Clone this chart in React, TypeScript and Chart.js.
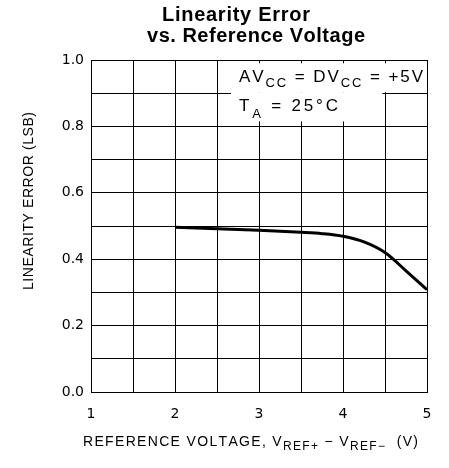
import React, { useEffect, useRef } from 'react';
import { Chart, registerables } from 'chart.js';

Chart.register(...registerables);

// ---- data ----
const voltage = [2, 2.5, 3, 3.5, 3.75, 4, 4.25, 4.5, 4.75, 5];
const linearityError = [0.496, 0.492, 0.487, 0.481, 0.477, 0.469, 0.452, 0.42, 0.365, 0.308];
const xTickLabels = ['1', '2', '3', '4', '5'];
const yTickLabels = ['0.0', '0.2', '0.4', '0.6', '0.8', '1.0'];
const titleLines = ['Linearity Error', 'vs. Reference Voltage'];
const yTitle = 'LINEARITY ERROR (LSB)';
type Run = [string, boolean];
const xTitleRuns: Run[] = [
  ['REFERENCE VOLTAGE, V', false],
  ['REF+', true],
  [' \u2212 V', false],
  ['REF\u2212', true],
  ['  (V)', false],
];
const noteLine1: Run[] = [
  ['AV', false],
  ['CC', true],
  [' = DV', false],
  ['CC', true],
  [' = +5V', false],
];
const noteLine2: Run[] = [
  ['T', false],
  ['A', true],
  [' = 25\u00B0C', false],
];

const FAMILY = '"Liberation Sans", Arial, sans-serif';
const TICK_FAMILY = '"DejaVu Sans", sans-serif';

function drawRuns(
  ctx: CanvasRenderingContext2D,
  runs: Run[],
  x: number,
  y: number,
  size: number,
  subSize: number,
  subDy: number,
  targetWidth: number,
  weight = ''
) {
  const chars: { ch: string; sub: boolean; w: number }[] = [];
  for (const [text, sub] of runs) {
    ctx.font = `${weight} ${sub ? subSize : size}px ${FAMILY}`;
    for (const ch of text) chars.push({ ch, sub, w: ctx.measureText(ch).width });
  }
  const natural = chars.reduce((a, c) => a + c.w, 0);
  const spacing = chars.length > 1 ? (targetWidth - natural) / (chars.length - 1) : 0;
  let cx = x;
  ctx.textAlign = 'left';
  ctx.textBaseline = 'alphabetic';
  for (const c of chars) {
    ctx.font = `${weight} ${c.sub ? subSize : size}px ${FAMILY}`;
    ctx.fillText(c.ch, cx, c.sub ? y + subDy : y);
    cx += c.w + spacing;
  }
}

const decorPlugin = {
  id: 'decor',
  beforeDatasetsDraw(chart: any) {
    const { ctx, scales } = chart;
    const xs = scales.x;
    const ys = scales.y;
    ctx.save();
    ctx.fillStyle = '#fff';
    const box = (x0: number, x1: number, y0: number, y1: number) => {
      const px0 = xs.getPixelForValue(x0);
      const px1 = xs.getPixelForValue(x1);
      const py0 = ys.getPixelForValue(y0);
      const py1 = ys.getPixelForValue(y1);
      ctx.fillRect(px0, py0, px1 - px0, py1 - py0);
    };
    box(2.667, 4.965, 0.99, 0.903);
    box(2.667, 4.47, 0.903, 0.815);
    ctx.restore();
  },
  afterDraw(chart: any) {
    const { ctx, scales } = chart;
    const xs = scales.x;
    const ys = scales.y;
    ctx.save();
    ctx.fillStyle = '#000';
    // title
    drawRuns(ctx, [[titleLines[0], false]], 162, 21, 20, 20, 0, 148, 'bold');
    drawRuns(ctx, [[titleLines[1], false]], 147, 42, 20, 20, 0, 218, 'bold');
    // y title
    ctx.save();
    ctx.translate(33, 201);
    ctx.rotate(-Math.PI / 2);
    drawRuns(ctx, [[yTitle, false]], -89, 0, 14, 10, 0, 178);
    ctx.restore();
    // x title
    drawRuns(ctx, xTitleRuns, 83, 446, 14, 12, 4, 335);
    // note
    const nx = xs.getPixelForValue(2.762);
    drawRuns(ctx, noteLine1, nx, ys.getPixelForValue(0.934), 17, 13, 5, 184);
    drawRuns(ctx, noteLine2, nx, ys.getPixelForValue(0.847), 17, 13, 7, 99);
    ctx.restore();
  },
};

export default function App() {
  const ref = useRef<HTMLCanvasElement>(null);
  useEffect(() => {
    const canvas = ref.current;
    if (!canvas) return;
    const chart = new Chart(canvas, {
      type: 'line',
      data: {
        datasets: [
          {
            data: voltage.map((v, i) => ({ x: v, y: linearityError[i] })),
            borderColor: '#000',
            borderWidth: 3,
            pointRadius: 0,
            cubicInterpolationMode: 'monotone',
            fill: false,
          },
        ],
      },
      options: {
        responsive: false,
        animation: false,
        events: [],
        layout: { padding: { top: 60, right: 22, left: 0, bottom: 0 } },
        plugins: { legend: { display: false }, title: { display: false }, tooltip: { enabled: false } },
        scales: {
          x: {
            type: 'linear',
            min: 1,
            max: 5,
            afterFit: (s: any) => {
              s.height = 76;
            },
            ticks: {
              stepSize: 0.5,
              autoSkip: false,
              maxRotation: 0,
              padding: 14,
              color: '#000',
              font: { family: TICK_FAMILY, size: 14 },
              callback: (v: any) => {
                const n = Number(v);
                return Number.isInteger(n) ? xTickLabels[n - 1] : '';
              },
            },
            grid: { color: '#000', lineWidth: 1, drawTicks: false },
            border: { color: '#000', width: 1 },
          },
          y: {
            type: 'linear',
            min: 0,
            max: 1,
            afterFit: (s: any) => {
              s.width = 91;
            },
            ticks: {
              stepSize: 0.1,
              autoSkip: false,
              padding: 7,
              color: '#000',
              font: { family: TICK_FAMILY, size: 14 },
              callback: (v: any) => {
                const k = Math.round(Number(v) * 10);
                return k % 2 === 0 ? yTickLabels[k / 2] : '';
              },
            },
            grid: { color: '#000', lineWidth: 1, drawTicks: false },
            border: { color: '#000', width: 1 },
          },
        },
      },
      plugins: [decorPlugin],
    });
    return () => chart.destroy();
  }, []);
  return (
    <div style={{ position: 'fixed', left: 0, top: 0, width: 449, height: 468, background: '#fff' }}>
      <canvas ref={ref} width={449} height={468} style={{ display: 'block' }} />
    </div>
  );
}
